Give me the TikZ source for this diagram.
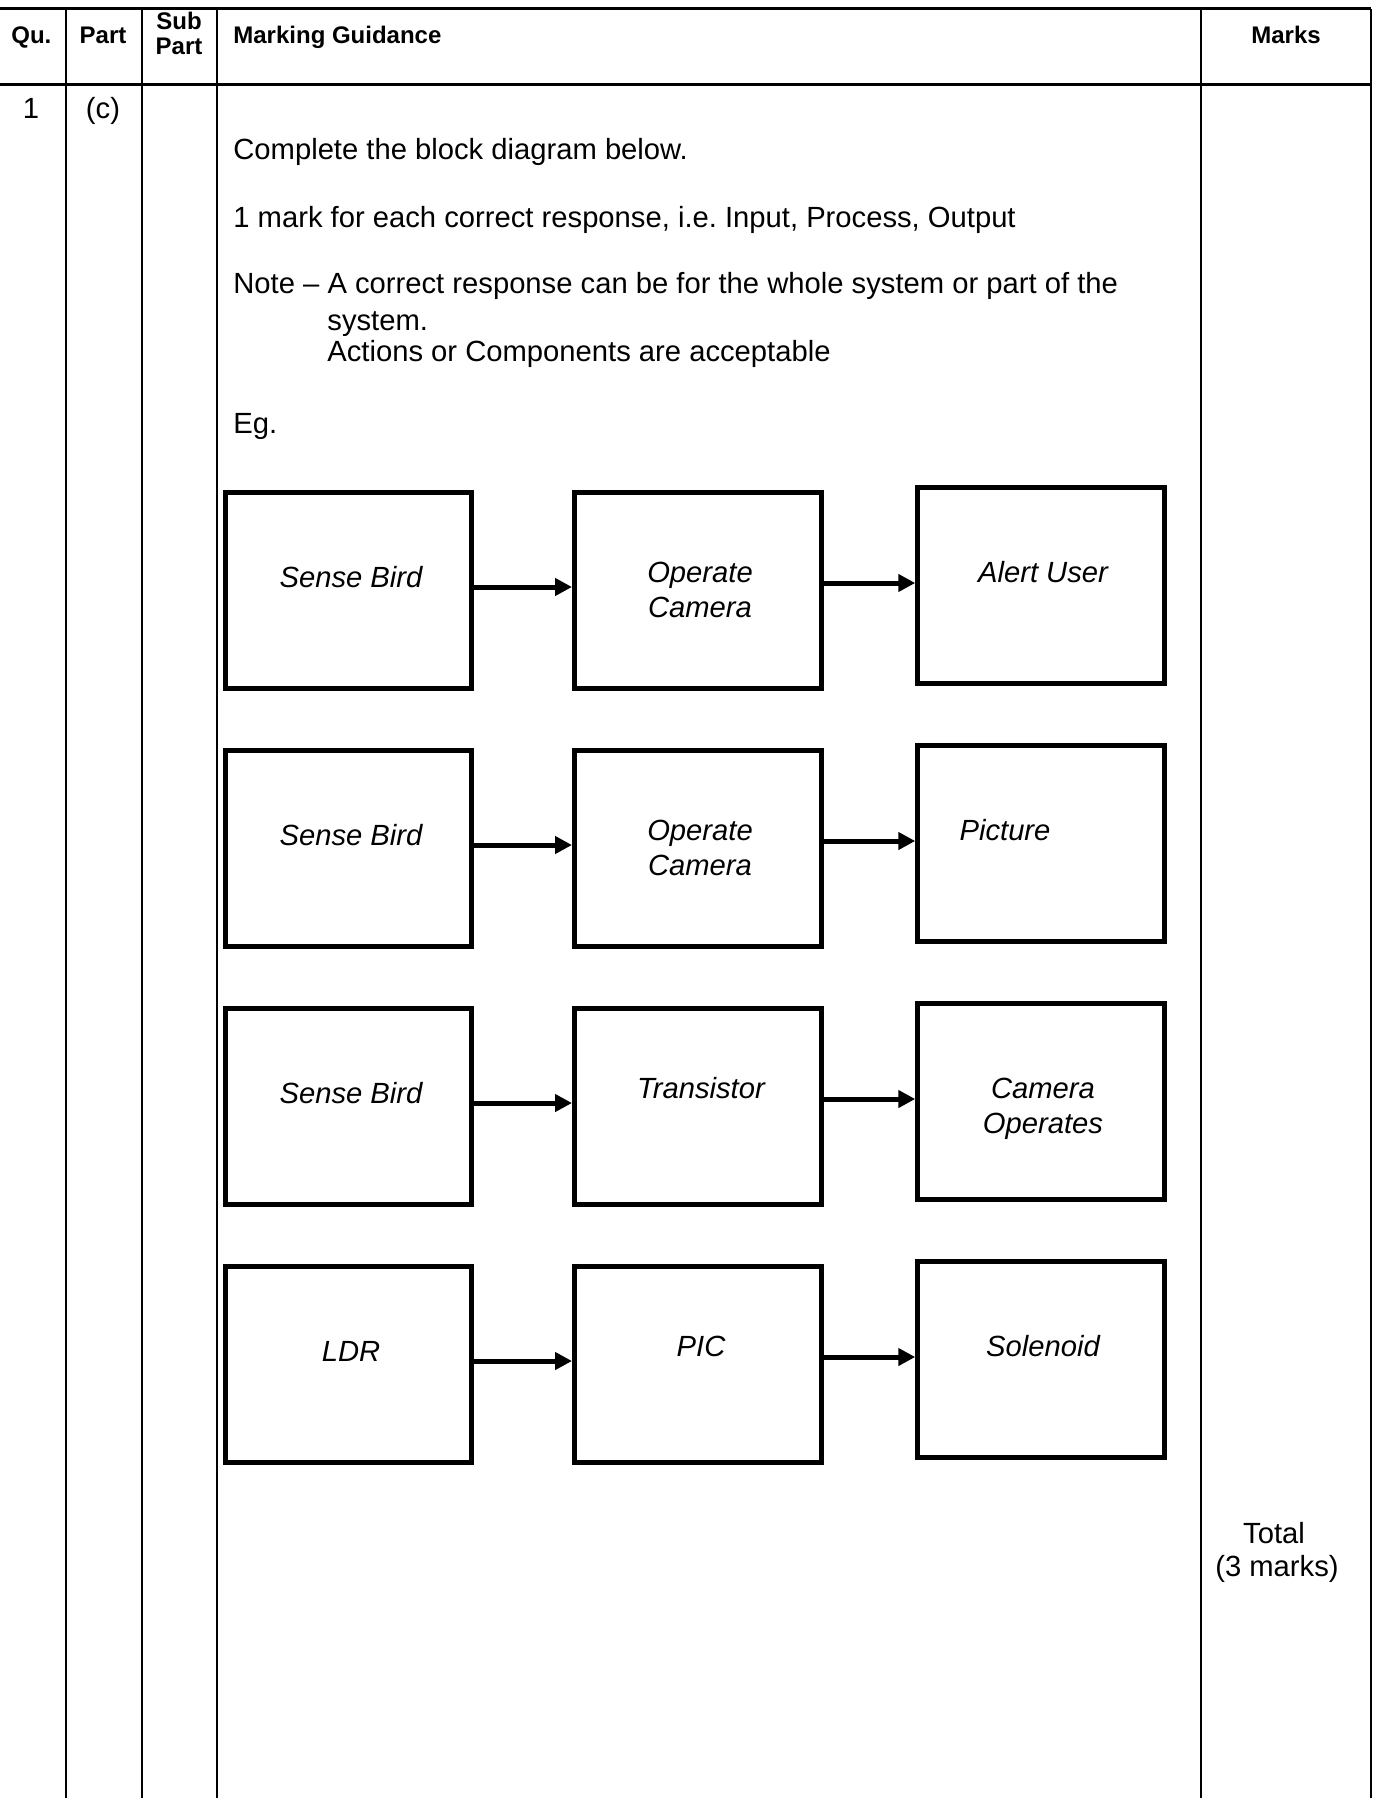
\documentclass[tikz,border=0pt]{standalone}
\usepackage{fontspec}
\setmainfont{Liberation Sans}
\usetikzlibrary{arrows.meta}
\newcommand\mybody{\fontsize{14.6pt}{17.5pt}\selectfont}
\newcommand\myhead{\fontsize{12pt}{14pt}\selectfont\bfseries}
\frenchspacing
\begin{document}
\begin{tikzpicture}[x=0.5pt,y=-0.5pt,
  hline/.style={line width=1.5pt},
  vline/.style={line width=1.1pt},
  blk/.style={draw, line width=2.5pt, minimum width=123.25pt, minimum height=98pt, inner sep=0pt},
  arr/.style={line width=2.5pt, -{Triangle[length=8.5pt,width=8.5pt]}},
  txt/.style={font=\mybody, inner sep=0pt, anchor=base west},
  ctxt/.style={font=\mybody, inner sep=0pt, anchor=base},
  itx/.style={font=\mybody\itshape, inner sep=0pt, anchor=base},
  hd/.style={font=\myhead, inner sep=0pt, anchor=base}]
\useasboundingbox (0,0) rectangle (1378,1798);
% table
\draw[hline] (0,9) -- (1371,9);
\draw[hline] (0,85) -- (1371,85);
\foreach \xx in {66,142,217,1201,1371} \draw[vline] (\xx,9) -- (\xx,1798);
% header
\node[hd, anchor=base west] (hqu) at (11,44) {Qu.};
\node[hd] (hpart) at (103,44) {Part};
\node[hd] (hsub1) at (179,30) {Sub};
\node[hd] (hsub2) at (179,55) {Part};
\node[hd, anchor=base west] (hmg) at (233,44) {Marking Guidance};
\node[hd] (hmarks) at (1286,44) {Marks};
\node[ctxt] (qnum) at (31,119) {1};
\node[ctxt] (qpart) at (103,119) {(c)};
% guidance text
\node[txt] (t1) at (233,159) {Complete the block diagram below.};
\node[txt] (t2) at (233,227) {1 mark for each correct response, i.e. Input, Process, Output};
\node[txt] (t3) at (233,293) {Note -- A correct response can be for the whole system or part of the};
\node[txt] (t4) at (327,330) {system.};
\node[txt] (t5) at (327,361) {Actions or Components are acceptable};
\node[txt] (t6) at (233,433) {Eg.};
% row 1
\node[blk] (A1) at (348.25,590.5) {};
\node[blk] (B1) at (697.75,590.5) {};
\node[blk] (C1) at (1041,585) {};
\node[itx] (a1) at (351,587) {Sense Bird};
\node[itx] (b1a) at (700,582) {Operate};
\node[itx] (b1b) at (700,617) {Camera};
\node[itx] (c1) at (1043,582) {Alert User};
\draw[arr] ([yshift=1.75pt]A1.east) -- ([yshift=1.75pt]B1.west);
\draw[arr] ([yshift=3.75pt]B1.east) -- ([yshift=3.75pt]B1.east -| C1.west);
% row 2
\node[blk] (A2) at (348.25,848.5) {};
\node[blk] (B2) at (697.75,848.5) {};
\node[blk] (C2) at (1041,843) {};
\node[itx] (a2) at (351,845) {Sense Bird};
\node[itx] (b2a) at (700,840) {Operate};
\node[itx] (b2b) at (700,875) {Camera};
\node[itx] (c2) at (1005,840) {Picture};
\draw[arr] ([yshift=1.75pt]A2.east) -- ([yshift=1.75pt]B2.west);
\draw[arr] ([yshift=3.75pt]B2.east) -- ([yshift=3.75pt]B2.east -| C2.west);
% row 3
\node[blk] (A3) at (348.25,1106.5) {};
\node[blk] (B3) at (697.75,1106.5) {};
\node[blk] (C3) at (1041,1101) {};
\node[itx] (a3) at (351,1103) {Sense Bird};
\node[itx] (b3) at (701,1098) {Transistor};
\node[itx] (c3a) at (1043,1098) {Camera};
\node[itx] (c3b) at (1043,1133) {Operates};
\draw[arr] ([yshift=1.75pt]A3.east) -- ([yshift=1.75pt]B3.west);
\draw[arr] ([yshift=3.75pt]B3.east) -- ([yshift=3.75pt]B3.east -| C3.west);
% row 4
\node[blk] (A4) at (348.25,1364.5) {};
\node[blk] (B4) at (697.75,1364.5) {};
\node[blk] (C4) at (1041,1359) {};
\node[itx] (a4) at (351,1361) {LDR};
\node[itx] (b4) at (701,1356) {PIC};
\node[itx] (c4) at (1043,1356) {Solenoid};
\draw[arr] ([yshift=1.75pt]A4.east) -- ([yshift=1.75pt]B4.west);
\draw[arr] ([yshift=3.75pt]B4.east) -- ([yshift=3.75pt]B4.east -| C4.west);
% total
\node[ctxt] (tot1) at (1274,1543) {Total};
\node[ctxt] (tot2) at (1277,1576) {(3 marks)};
\end{tikzpicture}
\end{document}
